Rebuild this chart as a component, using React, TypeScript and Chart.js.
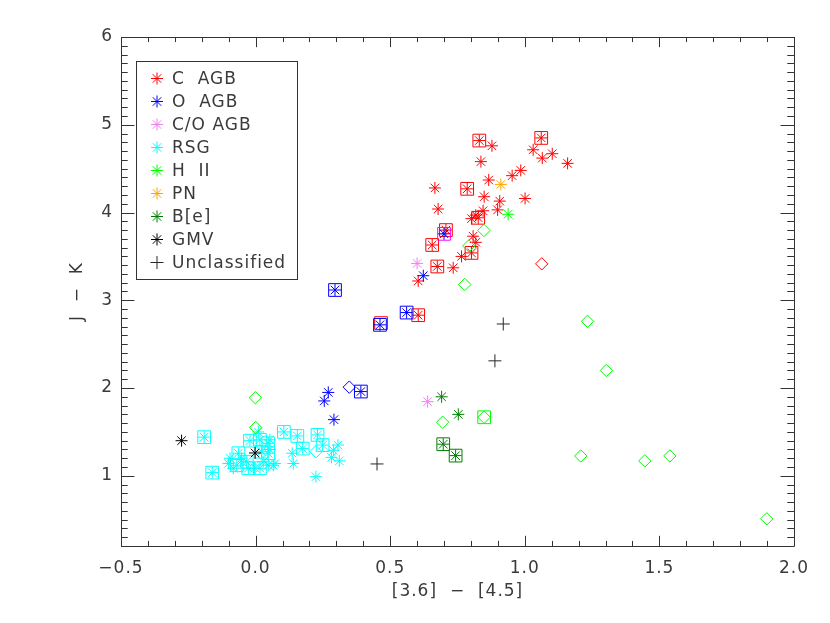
import React, { useEffect, useRef } from 'react';
import { Chart, registerables } from 'chart.js';

Chart.register(...registerables);

// ---- axes ----
const X_MIN = -0.5;
const X_MAX = 2.0;
const Y_MIN = 0.2;
const Y_MAX = 6.0;
const X_TICKS = [-0.5, 0.0, 0.5, 1.0, 1.5, 2.0];
const X_TICK_LABELS = ['\u22120.5', '0.0', '0.5', '1.0', '1.5', '2.0'];
const Y_TICKS = [1, 2, 3, 4, 5, 6];
const Y_TICK_LABELS = ['1', '2', '3', '4', '5', '6'];
const X_MINOR_STEP = 0.1;
const Y_MINOR_STEP = 0.1;
const X_TITLE = '[3.6]  \u2212  [4.5]';
const Y_TITLE = 'J  \u2212  K';

// ---- data: [x, y] = [[3.6]-[4.5], J-K] ----
const C_AGB: [number, number][] = [
  [0.831, 4.82], [0.878, 4.76], [1.061, 4.85], [1.031, 4.715], [1.065, 4.62],
  [1.102, 4.67], [1.159, 4.56], [0.837, 4.58], [0.985, 4.48], [0.953, 4.42],
  [0.866, 4.37], [0.786, 4.27], [0.666, 4.28], [0.849, 4.18], [1.001, 4.16],
  [0.907, 4.13], [0.678, 4.04], [0.845, 4.02], [0.899, 4.03], [0.827, 3.94],
  [0.802, 3.93], [0.818, 3.97], [0.707, 3.80], [0.808, 3.73], [0.818, 3.66],
  [0.656, 3.63], [0.802, 3.54], [0.765, 3.50], [0.675, 3.385], [0.734, 3.37],
  [0.604, 3.22], [0.604, 2.83],
];
const C_AGB_BOXED: [number, number][] = [
  [0.831, 4.82], [1.061, 4.85], [0.786, 4.27], [0.827, 3.94], [0.707, 3.80],
  [0.656, 3.63], [0.802, 3.54], [0.675, 3.385], [0.604, 2.83], [0.466, 2.74],
];
const C_AGB_DIAMOND: [number, number][] = [[1.063, 3.415]];

const O_AGB: [number, number][] = [
  [0.700, 3.757], [0.623, 3.28], [0.561, 2.86], [0.462, 2.72], [0.295, 3.117],
  [0.270, 1.95], [0.255, 1.853], [0.391, 1.96], [0.291, 1.64],
];
const O_AGB_BOXED: [number, number][] = [
  [0.561, 2.86], [0.462, 2.72], [0.295, 3.117], [0.391, 1.96],
];
const O_AGB_DIAMOND: [number, number][] = [[0.348, 2.01]];

const CO_AGB: [number, number][] = [[0.600, 3.42], [0.639, 1.845]];
const CO_AGB_BOXED: [number, number][] = [[0.700, 3.757]];

const RSG: [number, number][] = [
  [-0.191, 1.44], [-0.161, 1.036], [0.105, 1.50], [0.155, 1.454], [0.230, 1.466],
  [0.249, 1.35], [0.175, 1.31], [-0.021, 1.40], [0.016, 1.41], [0.047, 1.37],
  [-0.064, 1.257], [-0.070, 1.12], [-0.033, 1.16], [-0.027, 1.086], [0.022, 1.275],
  [0.047, 1.257], [0.016, 1.086],
  [0.306, 1.35], [0.289, 1.29], [0.282, 1.21], [0.311, 1.17], [0.224, 0.99],
  [0.136, 1.257], [0.140, 1.14], [0.053, 1.41], [-0.095, 1.20], [-0.101, 1.14],
  [-0.083, 1.086], [-0.052, 1.20], [0.028, 1.16], [0.047, 1.12], [0.072, 1.14],
  [-0.002, 1.086], [0.010, 1.50], [0.053, 1.30], [0.066, 1.12],
];
const RSG_BOXED: [number, number][] = [
  [-0.191, 1.44], [-0.161, 1.036], [0.105, 1.50], [0.155, 1.454], [0.230, 1.466],
  [0.249, 1.35], [0.175, 1.31], [-0.021, 1.40], [0.016, 1.41], [0.047, 1.37],
  [-0.064, 1.257], [-0.070, 1.12], [-0.033, 1.16], [-0.027, 1.086], [0.022, 1.275],
  [0.047, 1.257], [0.016, 1.086],
];
const RSG_DIAMOND: [number, number][] = [[0.224, 1.275]];

const HII: [number, number][] = [[0.938, 3.98]];
const HII_DIAMOND: [number, number][] = [
  [-0.001, 1.89], [0.0, 1.55], [0.777, 3.18], [0.848, 3.795], [0.792, 3.62],
  [0.695, 1.61], [0.849, 1.667], [1.233, 2.76], [1.303, 2.20], [1.208, 1.226],
  [1.446, 1.17], [1.539, 1.226], [1.899, 0.51],
];
const HII_BOXED: [number, number][] = [[0.849, 1.667]];

const PN: [number, number][] = [[0.911, 4.32]];

const BE: [number, number][] = [[0.691, 1.90], [0.753, 1.70], [0.697, 1.36], [0.743, 1.23]];
const BE_BOXED: [number, number][] = [[0.697, 1.36], [0.743, 1.23]];

const GMV: [number, number][] = [[-0.275, 1.40], [-0.002, 1.26]];

const UNCLASSIFIED: [number, number][] = [[0.920, 2.73], [0.889, 2.31], [0.451, 1.135]];

// ---- legend ----
const LEGEND_LABELS = ['C  AGB', 'O  AGB', 'C/O AGB', 'RSG', 'H  II', 'PN', 'B[e]', 'GMV', 'Unclassified'];

// ---- styles ----
const COL_C = 'rgb(255,0,0)';
const COL_O = 'rgb(0,0,255)';
const COL_CO = 'rgb(238,130,238)';
const COL_CO_BOX = 'rgb(255,0,255)';
const COL_RSG = 'rgb(0,255,255)';
const COL_HII = 'rgb(0,255,0)';
const COL_PN = 'rgb(255,165,0)';
const COL_BE = 'rgb(0,125,0)';
const COL_GMV = 'rgb(0,0,0)';
const COL_UNC = 'rgb(40,40,40)';
const LEGEND_COLORS = [COL_C, COL_O, COL_CO, COL_RSG, COL_HII, COL_PN, COL_BE, COL_GMV, COL_UNC];
const AXIS_COL = '#333333';
const TEXT_COL = '#3a3a3a';
const FONT = 'DejaVu Sans';

const STAR_R = 6;
const BOX_R = 9;
const DIAMOND_R = 6.2;
const PLUS_R = 6.5;

function pts(a: [number, number][]) {
  return a.map(([x, y]) => ({ x, y }));
}

function ds(label: string, data: [number, number][], color: string, style: string, r: number) {
  return {
    label,
    data: pts(data),
    pointStyle: style,
    pointRadius: r,
    pointHoverRadius: r,
    borderColor: color,
    pointBorderColor: color,
    backgroundColor: 'rgba(0,0,0,0)',
    pointBackgroundColor: 'rgba(0,0,0,0)',
    pointBorderWidth: 1,
    borderWidth: 1,
    showLine: false,
  };
}

const idlFrame = {
  id: 'idlFrame',
  beforeDraw(chart: any) {
    chart.ctx.letterSpacing = '1px';
  },
  beforeDatasetsDraw(chart: any) {
    const { ctx, chartArea: a, scales } = chart;
    const xs = scales.x;
    const ys = scales.y;
    ctx.save();
    ctx.strokeStyle = AXIS_COL;
    ctx.lineWidth = 1;
    ctx.beginPath();
    ctx.rect(Math.round(a.left) + 0.5, Math.round(a.top) + 0.5, Math.round(a.right - a.left), Math.round(a.bottom - a.top));
    const h = a.bottom - a.top;
    const w = a.right - a.left;
    const xMaj = 0.02 * h;
    const yMaj = 0.02 * w;
    const nx = Math.round((X_MAX - X_MIN) / X_MINOR_STEP);
    for (let i = 0; i <= nx; i++) {
      const v = X_MIN + i * X_MINOR_STEP;
      const major = X_TICKS.some((t) => Math.abs(t - v) < 1e-6);
      const len = major ? xMaj : xMaj / 2;
      const px = Math.round(xs.getPixelForValue(v)) + 0.5;
      ctx.moveTo(px, a.bottom);
      ctx.lineTo(px, a.bottom - len);
      ctx.moveTo(px, a.top);
      ctx.lineTo(px, a.top + len);
    }
    const ny = Math.round((Y_MAX - Y_MIN) / Y_MINOR_STEP);
    for (let i = 0; i <= ny; i++) {
      const v = Y_MIN + i * Y_MINOR_STEP;
      const major = Y_TICKS.some((t) => Math.abs(t - v) < 1e-6);
      const len = major ? yMaj : yMaj / 2;
      const py = Math.round(ys.getPixelForValue(v)) + 0.5;
      ctx.moveTo(a.left, py);
      ctx.lineTo(a.left + len, py);
      ctx.moveTo(a.right, py);
      ctx.lineTo(a.right - len, py);
    }
    ctx.stroke();
    ctx.restore();
  },
  afterDraw(chart: any) {
    const { ctx } = chart;
    ctx.save();
    // legend box
    const bx = 136, by = 61, bw = 161, bh = 218;
    ctx.strokeStyle = AXIS_COL;
    ctx.lineWidth = 1;
    ctx.strokeRect(bx + 0.5, by + 0.5, bw, bh);
    ctx.font = `17px "${FONT}"`;
    ctx.textBaseline = 'middle';
    ctx.textAlign = 'left';
    ctx.letterSpacing = '1px';
    LEGEND_LABELS.forEach((lab, i) => {
      const cy = 78.5 + i * 23;
      const cx = 157;
      ctx.strokeStyle = LEGEND_COLORS[i];
      ctx.lineWidth = 1;
      ctx.beginPath();
      const r = STAR_R;
      if (i === LEGEND_LABELS.length - 1) {
        ctx.moveTo(cx - PLUS_R, cy);
        ctx.lineTo(cx + PLUS_R, cy);
        ctx.moveTo(cx, cy - PLUS_R);
        ctx.lineTo(cx, cy + PLUS_R);
      } else {
        for (let k = 0; k < 4; k++) {
          const ang = (k * Math.PI) / 4;
          const dx = Math.cos(ang) * r;
          const dy = Math.sin(ang) * r;
          ctx.moveTo(cx - dx, cy - dy);
          ctx.lineTo(cx + dx, cy + dy);
        }
      }
      ctx.stroke();
      ctx.fillStyle = TEXT_COL;
      ctx.fillText(lab, 172, cy + 1);
    });
    ctx.restore();
    ctx.letterSpacing = '0px';
  },
};

export default function App() {
  const ref = useRef<HTMLCanvasElement | null>(null);
  useEffect(() => {
    if (!ref.current) return;
    const datasets = [
      ds('Unclassified', UNCLASSIFIED, COL_UNC, 'cross', PLUS_R),
      ds('GMV', GMV, COL_GMV, 'star', STAR_R),
      ds('B[e] box', BE_BOXED, COL_BE, 'rect', BOX_R),
      ds('B[e]', BE, COL_BE, 'star', STAR_R),
      ds('PN', PN, COL_PN, 'star', STAR_R),
      ds('H II box', HII_BOXED, COL_HII, 'rect', BOX_R),
      ds('H II', HII, COL_HII, 'star', STAR_R),
      ds('H II diamond', HII_DIAMOND, COL_HII, 'rectRot', DIAMOND_R),
      ds('C/O AGB box', CO_AGB_BOXED, COL_CO_BOX, 'rect', BOX_R),
      ds('O AGB', O_AGB, COL_O, 'star', STAR_R),
      ds('O AGB box', O_AGB_BOXED, COL_O, 'rect', BOX_R),
      ds('O AGB diamond', O_AGB_DIAMOND, COL_O, 'rectRot', DIAMOND_R),
      ds('C/O AGB', CO_AGB, COL_CO, 'star', STAR_R),
      ds('C AGB box', C_AGB_BOXED, COL_C, 'rect', BOX_R),
      ds('C AGB', C_AGB, COL_C, 'star', STAR_R),
      ds('C AGB diamond', C_AGB_DIAMOND, COL_C, 'rectRot', DIAMOND_R),
      ds('RSG box', RSG_BOXED, COL_RSG, 'rect', BOX_R),
      ds('RSG', RSG, COL_RSG, 'star', STAR_R),
      ds('RSG diamond', RSG_DIAMOND, COL_RSG, 'rectRot', DIAMOND_R),
    ];
    const chart = new Chart(ref.current, {
      type: 'scatter',
      data: { datasets } as any,
      plugins: [idlFrame],
      options: {
        responsive: false,
        animation: false,
        devicePixelRatio: 1,
        events: [],
        layout: { padding: { left: 0, right: 36, top: 37, bottom: 0 } },
        plugins: { legend: { display: false }, tooltip: { enabled: false } },
        scales: {
          x: {
            type: 'linear',
            min: X_MIN,
            max: X_MAX,
            afterBuildTicks: (s: any) => {
              s.ticks = X_TICKS.map((value) => ({ value }));
            },
            afterFit: (s: any) => {
              s.height = 77;
            },
            grid: { display: false, drawTicks: false },
            border: { display: false },
            ticks: {
              autoSkip: false,
              maxRotation: 0,
              padding: 12.8,
              color: TEXT_COL,
              font: { family: FONT, size: 17 },
              callback: (_v: any, i: number) => X_TICK_LABELS[i],
            },
            title: {
              display: true,
              text: X_TITLE,
              color: TEXT_COL,
              font: { family: FONT, size: 17 },
              padding: { top: 0, bottom: 21 },
            },
          },
          y: {
            type: 'linear',
            min: Y_MIN,
            max: Y_MAX,
            afterBuildTicks: (s: any) => {
              s.ticks = Y_TICKS.map((value) => ({ value }));
            },
            afterFit: (s: any) => {
              s.width = 121;
            },
            grid: { display: false, drawTicks: false },
            border: { display: false },
            ticks: {
              autoSkip: false,
              padding: 8,
              color: TEXT_COL,
              font: { family: FONT, size: 17 },
              callback: (_v: any, i: number) => Y_TICK_LABELS[i],
            },
            title: {
              display: true,
              text: Y_TITLE,
              color: TEXT_COL,
              font: { family: FONT, size: 17 },
              padding: { top: 67, bottom: 0 },
            },
          },
        },
      } as any,
    });
    return () => chart.destroy();
  }, []);
  return (
    <div style={{ position: 'absolute', left: 0, top: 0, width: 830, height: 623, background: '#fff' }}>
      <canvas ref={ref} width={830} height={623} style={{ display: 'block' }} />
    </div>
  );
}
